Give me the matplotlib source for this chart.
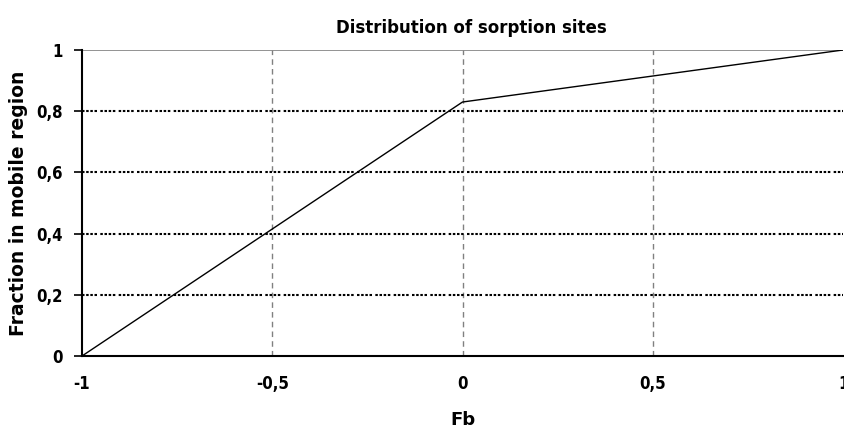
import matplotlib.pyplot as plt

# sorption site distribution
fb = [-1, 0, 1]
frac_mobile = [0, 0.83, 1]
x_ticks = [-1, -0.5, 0, 0.5, 1]
y_ticks = [0, 0.2, 0.4, 0.6, 0.8, 1]

plt.rcParams['font.family'] = ['DejaVu Sans']

fig = plt.figure(figsize=(8.44, 4.28), dpi=100)
ax = fig.add_axes([82/844, 1-356/428, (843-82)/844, (356-50)/428])

ax.plot(fb, frac_mobile, color='black', lw=1, zorder=3)

ax.set_xlim(-1, 1)
ax.set_ylim(0, 1)
ax.set_xticks(x_ticks)
ax.set_yticks(y_ticks)
fmt = lambda v: ('%g' % v).replace('.', ',')
ax.set_xticklabels([fmt(v) for v in x_ticks], fontsize=12, fontweight='bold', fontstretch='condensed')
ax.set_yticklabels([fmt(v) for v in y_ticks], fontsize=12, fontweight='bold', fontstretch='condensed')

# grey dashed verticals, black dotted horizontals
for v in x_ticks[1:-1]:
    ax.axvline(v, color='#808080', lw=1, dashes=(4, 3), zorder=1)
for v in y_ticks[1:-1]:
    ax.axhline(v, color='black', lw=1.5,
               dashes=(1.2, 0.8, 1.2, 0.8, 1.2, 0.8, 1.2, 1.6), zorder=2)
ax.axhline(1, color='#808080', lw=1.2, zorder=1)

for s in ['top', 'right']:
    ax.spines[s].set_visible(False)
ax.spines['left'].set_linewidth(1.5)
ax.spines['bottom'].set_linewidth(1.5)
ax.tick_params(axis='y', length=6, width=1.2, pad=8)
ax.tick_params(axis='x', length=0, pad=14)

ax.set_title('Distribution of sorption sites', fontsize=12, fontweight='bold', pad=12, x=0.512)
ax.set_xlabel('Fb', fontsize=13, fontweight='bold')
ax.set_ylabel('Fraction in mobile region', fontsize=13.5, fontweight='bold')
ax.xaxis.set_label_coords(0.5, -0.18)
ax.yaxis.set_label_coords(-0.071, 0.5)

fig.savefig('out.png', dpi=100)
